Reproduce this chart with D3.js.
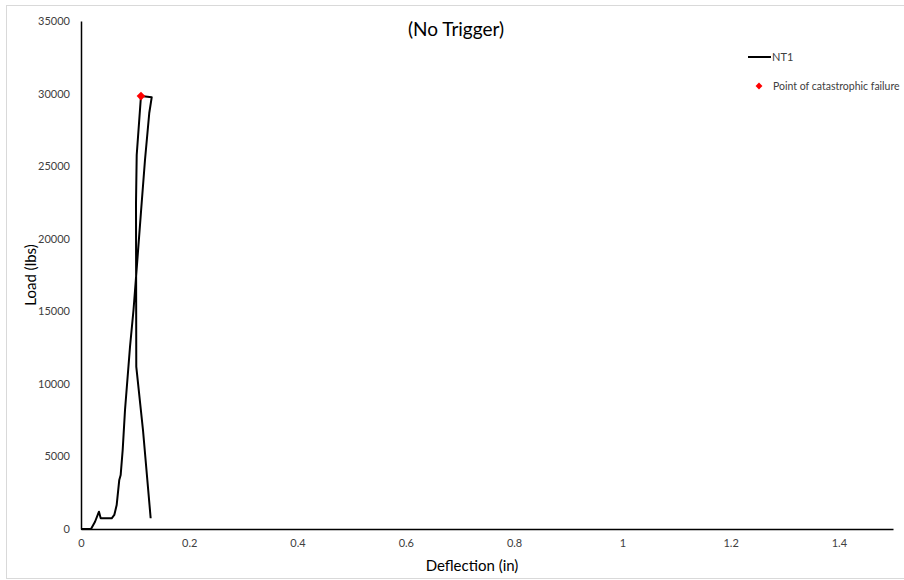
<!DOCTYPE html>
<html>
<head>
<meta charset="utf-8">
<script src="https://cdn.jsdelivr.net/npm/d3@7"></script>
<style>
  body { margin: 0; background: #fff; }
  svg { display: block; font-family: Lato, "Open Sans", sans-serif; }
</style>
</head>
<body>
<div id="chart"></div>
<script>
// NT1 load-deflection trace (in, lbs)
const deflection = [0, 0.0185, 0.0259, 0.0332, 0.0364, 0.0567, 0.0615, 0.0659, 0.0707, 0.0733, 0.0770,
  0.0813, 0.0905, 0.0970, 0.1034, 0.1108, 0.1182, 0.1261, 0.1306, 0.1108, 0.1029, 0.1016, 0.1021, 0.1145, 0.1287];
const load = [0, 0, 500, 1190, 740, 740, 965, 1650, 3380, 3720, 5440,
  8200, 12540, 15090, 18190, 21840, 25420, 28660, 29740, 29830, 25770, 22460, 11180, 6820, 740];

const failureDeflection = [0.1108];
const failureLoad = [29830];

const xTicks = [0, 0.2, 0.4, 0.6, 0.8, 1, 1.2, 1.4];
const yTicks = [0, 5000, 10000, 15000, 20000, 25000, 30000, 35000];

const W = 904, H = 580;
const margin = { top: 21, right: 11, bottom: 51, left: 81 };
const width = W - margin.left - margin.right;
const height = H - margin.top - margin.bottom;

const svg = d3.select('#chart').append('svg')
  .attr('width', W)
  .attr('height', H);

// outer chart border
svg.append('rect')
  .attr('x', 6.5).attr('y', 5.5)
  .attr('width', W + 10).attr('height', 573)
  .attr('fill', 'none')
  .attr('stroke', '#d9d9d9');

const g = svg.append('g')
  .attr('transform', `translate(${margin.left},${margin.top})`);

const x = d3.scaleLinear().domain([0, 1.5]).range([0, width]);
const y = d3.scaleLinear().domain([0, 35000]).range([height, 0]);

// X-axis
const xAxis = g.append('g')
  .attr('transform', `translate(0,${height})`)
  .call(d3.axisBottom(x).tickValues(xTicks).tickSize(0).tickPadding(10).tickFormat(d => d));
xAxis.select('.domain').attr('stroke', '#000').attr('stroke-width', 1.5);
xAxis.selectAll('text').attr('font-size', 11).attr('fill', '#404040').style('font-family', 'Lato, sans-serif');

// Y-axis
const yAxis = g.append('g')
  .call(d3.axisLeft(y).tickValues(yTicks).tickSize(0).tickPadding(11).tickFormat(d => d));
yAxis.select('.domain').attr('stroke', '#000').attr('stroke-width', 1.5);
yAxis.selectAll('text').attr('font-size', 11).attr('fill', '#404040').style('font-family', 'Lato, sans-serif');

const points = deflection.map((d, i) => [d, load[i]]);

const line = d3.line()
  .x(d => x(d[0]))
  .y(d => y(d[1]));

g.append('path')
  .datum(points)
  .attr('fill', 'none')
  .attr('stroke', '#000')
  .attr('stroke-width', 2)
  .attr('stroke-linejoin', 'round')
  .attr('d', line);

// failure marker
const diamond = d3.symbol().type(d3.symbolDiamond2 || d3.symbolDiamond).size(48);
g.selectAll('.fail')
  .data(failureDeflection)
  .enter().append('path')
  .attr('class', 'fail')
  .attr('d', diamond)
  .attr('transform', (d, i) => `translate(${x(d)},${y(failureLoad[i])})`)
  .attr('fill', '#ff0000');

// title and axis titles
svg.append('text')
  .attr('x', 456).attr('y', 36)
  .attr('text-anchor', 'middle')
  .attr('font-size', 19)
  .attr('fill', '#000')
  .text('(No Trigger)');

svg.append('text')
  .attr('x', 472).attr('y', 571)
  .attr('text-anchor', 'middle')
  .attr('font-size', 15)
  .attr('fill', '#000')
  .text('Deflection (in)');

svg.append('text')
  .attr('transform', `translate(36,${margin.top + height / 2}) rotate(-90)`)
  .attr('text-anchor', 'middle')
  .attr('font-size', 15)
  .attr('fill', '#000')
  .text('Load (lbs)');

// legend
const legend = svg.append('g');
legend.append('line')
  .attr('x1', 748).attr('x2', 771)
  .attr('y1', 57).attr('y2', 57)
  .attr('stroke', '#000').attr('stroke-width', 2);
legend.append('text')
  .attr('x', 772).attr('y', 61)
  .attr('font-size', 11)
  .attr('fill', '#404040')
  .text('NT1');
legend.append('path')
  .attr('d', d3.symbol().type(d3.symbolDiamond2 || d3.symbolDiamond).size(30))
  .attr('transform', 'translate(759,86)')
  .attr('fill', '#ff0000');
legend.append('text')
  .attr('x', 773).attr('y', 90)
  .attr('font-size', 10.5)
  .attr('fill', '#404040')
  .text('Point of catastrophic failure');
</script>
</body>
</html>
